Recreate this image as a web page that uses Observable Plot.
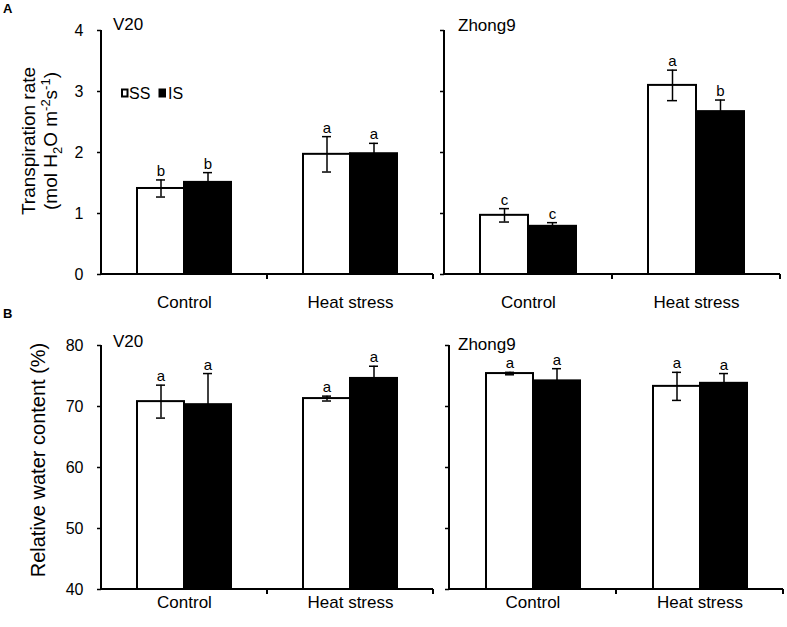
<!DOCTYPE html>
<html><head><meta charset="utf-8">
<script src="https://cdn.jsdelivr.net/npm/d3@7"></script>
<script src="https://cdn.jsdelivr.net/npm/@observablehq/plot@0.6"></script>
<style>
body{margin:0;background:#fff;font-family:"Liberation Sans",Arial,sans-serif;}
#root{position:relative;width:787px;height:627px;overflow:hidden;background:#fff}
#root svg{position:absolute}
</style></head><body><div id="root"></div>
<script>
// ---- data ----
const conditions = ["Control", "Heat stress"];
const series = ["SS", "IS"];
const seriesFill = ["white", "black"];
// order of values: Control-SS, Control-IS, Heat stress-SS, Heat stress-IS
const groupCond = ["Control", "Control", "Heat stress", "Heat stress"];
const groupSeries = ["SS", "IS", "SS", "IS"];

// A: transpiration rate (mol H2O m-2 s-1)
const trTicks = [0, 1, 2, 3, 4];
const trV20Mean = [1.41, 1.51, 1.97, 1.98];
const trV20Err = [0.14, 0.16, 0.29, 0.17];
const trV20Letter = ["b", "b", "a", "a"];
const trZ9Mean = [0.97, 0.79, 3.10, 2.67];
const trZ9Err = [0.11, 0.06, 0.25, 0.19];
const trZ9Letter = ["c", "c", "a", "b"];

// B: relative water content (%)
const rwcTicks = [40, 50, 60, 70, 80];
const rwcV20Mean = [70.8, 70.3, 71.3, 74.6];
const rwcV20Err = [2.7, 5.1, 0.4, 2.0];
const rwcV20Letter = ["a", "a", "a", "a"];
const rwcZ9Mean = [75.4, 74.2, 73.3, 73.8];
const rwcZ9Err = [0.2, 2.0, 2.3, 1.6];
const rwcZ9Letter = ["a", "a", "a", "a"];

// ---- build ----
const root = document.getElementById("root");
const FONT = "'Liberation Sans', Arial, sans-serif";

function rows(mean, err, letter) {
  return mean.map((m, i) => ({cond: groupCond[i], series: groupSeries[i], mean: m, err: err[i], letter: letter[i]}));
}

function axisLines(yMin) {
  return Plot.ruleY(conditions, {
    fx: d => d, y: () => yMin,
    render(I, scales, values, dims) {
      const [xL, xR] = scales.x.range();
      const [yB, yT] = scales.y.range();
      const g = d3.create("svg:g").attr("stroke", "black").attr("fill", "none");
      g.append("line").attr("x1", xL - 1).attr("x2", xR).attr("y1", yB).attr("y2", yB).attr("stroke-width", 2);
      g.append("line").attr("x1", xR).attr("x2", xR).attr("y1", yB).attr("y2", yB + 5).attr("stroke-width", 2);
      if (conditions[I[0]] === conditions[0]) {
        g.append("line").attr("x1", xL).attr("x2", xL).attr("y1", yT).attr("y2", yB).attr("stroke-width", 2);
      }
      return g.node();
    }
  });
}

function panel({mean, err, letter, ticks, showLabels, left, top, width, height, mL, mR, mT, mB, fxPad}) {
  const data = rows(mean, err, letter);
  const yMin = ticks[0];
  const svg = Plot.plot({
    width, height,
    marginLeft: mL, marginRight: mR, marginTop: mT, marginBottom: mB,
    style: {background: "transparent", fontFamily: FONT, fontSize: "17px", color: "black"},
    fx: {domain: conditions, padding: 0, axis: "bottom", tickSize: 0, tickPadding: fxPad, label: null},
    x: {domain: series, paddingInner: 0, paddingOuter: 0.75, axis: null},
    y: {domain: [ticks[0], ticks[ticks.length - 1]], axis: null},
    color: {domain: series, range: seriesFill},
    marks: [
      Plot.barY(data, {fx: "cond", x: "series", y1: () => yMin, y2: "mean", fill: "series", stroke: "black", strokeWidth: 2}),
      axisLines(yMin),
      Plot.axisY(ticks, {anchor: "left", tickSize: 4, tickPadding: 14, strokeWidth: 1.5, label: null,
        tickFormat: showLabels ? (d => String(d)) : (() => ""), fontSize: 16}),
      Plot.ruleX(data, {fx: "cond", x: "series", y1: d => Math.max(yMin, d.mean - d.err), y2: d => d.mean + d.err, stroke: "black", strokeWidth: 1.5}),
      Plot.tickY(data, {fx: "cond", x: "series", y: d => d.mean + d.err, insetLeft: 19, insetRight: 19, stroke: "black", strokeWidth: 1.5}),
      Plot.tickY(data, {fx: "cond", x: "series", y: d => d.mean - d.err, insetLeft: 19, insetRight: 19, stroke: "black", strokeWidth: 1.5}),
      Plot.text(data, {fx: "cond", x: "series", y: d => d.mean + d.err, text: "letter", lineAnchor: "bottom", dy: -4, fontSize: 15, fill: "black"})
    ]
  });
  svg.style.left = left + "px";
  svg.style.top = top + "px";
  root.appendChild(svg);
}

panel({mean: trV20Mean, err: trV20Err, letter: trV20Letter, ticks: trTicks, showLabels: true,
  left: 0, top: 0, width: 440, height: 320, mL: 100, mR: 7, mT: 30, mB: 46, fxPad: 21});
panel({mean: trZ9Mean, err: trZ9Err, letter: trZ9Letter, ticks: trTicks, showLabels: false,
  left: 400, top: 0, width: 387, height: 320, mL: 44, mR: 7, mT: 30, mB: 46, fxPad: 21});
panel({mean: rwcV20Mean, err: rwcV20Err, letter: rwcV20Letter, ticks: rwcTicks, showLabels: true,
  left: 0, top: 315, width: 440, height: 312, mL: 100, mR: 7, mT: 30, mB: 38, fxPad: 6});
panel({mean: rwcZ9Mean, err: rwcZ9Err, letter: rwcZ9Letter, ticks: rwcTicks, showLabels: false,
  left: 400, top: 315, width: 387, height: 312, mL: 48, mR: 4, mT: 30, mB: 38, fxPad: 6});

// ---- overlay texts: panel letters, titles, y labels, legend ----
const ov = d3.select(root).append("svg").attr("width", 787).attr("height", 627)
  .style("left", "0px").style("top", "0px").attr("font-family", FONT).attr("fill", "black");
ov.append("text").attr("x", 3).attr("y", 13).attr("font-size", 13).attr("font-weight", "bold").text("A");
ov.append("text").attr("x", 3).attr("y", 318).attr("font-size", 13).attr("font-weight", "bold").text("B");
ov.append("text").attr("x", 113).attr("y", 30).attr("font-size", 17).text("V20");
ov.append("text").attr("x", 458).attr("y", 31).attr("font-size", 17).text("Zhong9");
ov.append("text").attr("x", 113).attr("y", 347).attr("font-size", 17).text("V20");
ov.append("text").attr("x", 458).attr("y", 350).attr("font-size", 17).text("Zhong9");

const l1 = ov.append("text").attr("transform", "translate(35,141) rotate(-90)").attr("text-anchor", "middle").attr("font-size", 19).text("Transpiration rate");
const l2 = ov.append("text").attr("transform", "translate(57,141) rotate(-90)").attr("text-anchor", "middle").attr("font-size", 19);
l2.append("tspan").text("(mol H");
l2.append("tspan").attr("font-size", 13).attr("dy", 5).text("2");
l2.append("tspan").attr("dy", -5).text("O m");
l2.append("tspan").attr("font-size", 13).attr("dy", -7).text("-2");
l2.append("tspan").attr("dy", 7).text("s");
l2.append("tspan").attr("font-size", 13).attr("dy", -7).text("-1");
l2.append("tspan").attr("dy", 7).text(")");
ov.append("text").attr("transform", "translate(45,460) rotate(-90)").attr("text-anchor", "middle").attr("font-size", 20).text("Relative water content (%)");

// legend
const leg = ov.append("g");
leg.append("rect").attr("x", 122).attr("y", 89.5).attr("width", 5.5).attr("height", 7).attr("fill", seriesFill[0]).attr("stroke", "black").attr("stroke-width", 2);
leg.append("text").attr("x", 129).attr("y", 98.5).attr("font-size", 16).text(series[0]);
leg.append("rect").attr("x", 158.5).attr("y", 88.5).attr("width", 7.5).attr("height", 9).attr("fill", seriesFill[1]);
leg.append("text").attr("x", 168).attr("y", 98.5).attr("font-size", 16).text(series[1]);
</script></body></html>
